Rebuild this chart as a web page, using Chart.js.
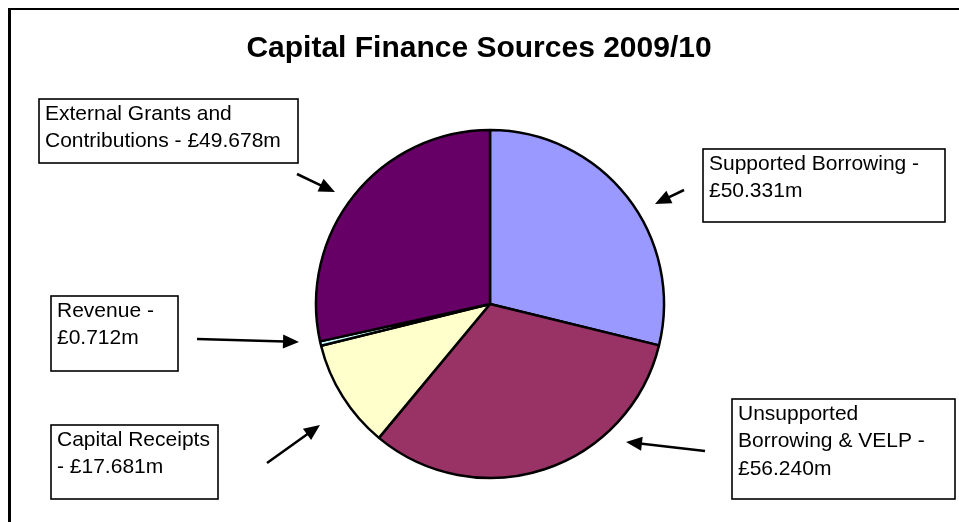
<!DOCTYPE html>
<html>
<head>
<meta charset="utf-8">
<script src="https://cdn.jsdelivr.net/npm/chart.js@4.4.1/dist/chart.umd.min.js"></script>
<style>
  html, body { margin: 0; padding: 0; background: #ffffff; }
  #wrap { width: 959px; height: 522px; position: relative; }
</style>
</head>
<body>
<div id="wrap"><canvas id="c" width="959" height="522"></canvas></div>
<script>
// ---- data ----
const chartTitle = "Capital Finance Sources 2009/10";
const categories = [
  "Supported Borrowing",
  "Unsupported Borrowing & VELP",
  "Capital Receipts",
  "Revenue",
  "External Grants and Contributions"
];
const valuesMillions = [50.331, 56.240, 17.681, 0.712, 49.678];
const calloutLines = [
  ["Supported Borrowing -", "£50.331m"],
  ["Unsupported", "Borrowing & VELP -", "£56.240m"],
  ["Capital Receipts", "- £17.681m"],
  ["Revenue -", "£0.712m"],
  ["External Grants and", "Contributions - £49.678m"]
];
const sliceColors = ["#9999FF", "#993366", "#FFFFCC", "#CCFFFF", "#660066"];

// ---- callout layout (boxes and arrows, in canvas pixels) ----
const calloutLayout = [
  { box: [703, 149, 242, 73],  arrow: [684, 190, 655, 204] },
  { box: [732, 399, 223, 100], arrow: [705, 451, 626, 442] },
  { box: [51, 425, 167, 74],   arrow: [267, 463, 320, 425] },
  { box: [51, 296, 127, 75],   arrow: [197, 339, 299, 342] },
  { box: [39, 99, 259, 64],    arrow: [297, 174, 335, 192] }
];

const FONT = '"Liberation Sans", Arial, Helvetica, sans-serif';

function drawArrow(ctx, x1, y1, x2, y2) {
  const ang = Math.atan2(y2 - y1, x2 - x1);
  const headLen = 16, headHalf = 7;
  const bx = x2 - headLen * Math.cos(ang), by = y2 - headLen * Math.sin(ang);
  ctx.save();
  ctx.strokeStyle = "#000";
  ctx.fillStyle = "#000";
  ctx.lineWidth = 2.5;
  ctx.beginPath();
  ctx.moveTo(x1, y1);
  ctx.lineTo(bx + 2 * Math.cos(ang), by + 2 * Math.sin(ang));
  ctx.stroke();
  ctx.beginPath();
  ctx.moveTo(x2, y2);
  ctx.lineTo(bx + headHalf * Math.sin(ang), by - headHalf * Math.cos(ang));
  ctx.lineTo(bx - headHalf * Math.sin(ang), by + headHalf * Math.cos(ang));
  ctx.closePath();
  ctx.fill();
  ctx.restore();
}

const decorPlugin = {
  id: "decor",
  beforeDraw(chart) {
    const ctx = chart.ctx;
    ctx.save();
    ctx.fillStyle = "#fff";
    ctx.fillRect(0, 0, chart.width, chart.height);
    // outer frame (extends beyond right/bottom edges)
    ctx.fillStyle = "#000";
    ctx.fillRect(8, 8, chart.width, 2);
    ctx.fillRect(8, 8, 3, chart.height);
    // title
    ctx.font = "bold 30px " + FONT;
    ctx.textAlign = "center";
    ctx.textBaseline = "middle";
    ctx.fillText(chartTitle, 479, 49);
    ctx.restore();
  },
  afterDraw(chart) {
    const ctx = chart.ctx;
    ctx.save();
    calloutLayout.forEach((c, i) => {
      const [x, y, w, h] = c.box;
      ctx.fillStyle = "#fff";
      ctx.fillRect(x, y, w, h);
      ctx.strokeStyle = "#000";
      ctx.lineWidth = 1.6;
      ctx.strokeRect(x, y, w, h);
      ctx.fillStyle = "#000";
      ctx.font = "21px " + FONT;
      ctx.textAlign = "left";
      ctx.textBaseline = "middle";
      calloutLines[i].forEach((t, k) => {
        ctx.fillText(t, x + 6, y + 15 + k * 27.5);
      });
      const [x1, y1, x2, y2] = c.arrow;
      drawArrow(ctx, x1, y1, x2, y2);
    });
    ctx.restore();
  }
};

new Chart(document.getElementById("c"), {
  type: "pie",
  data: {
    labels: categories,
    datasets: [{
      data: valuesMillions,
      backgroundColor: sliceColors,
      borderColor: "#000000",
      borderWidth: 2.5,
      hoverOffset: 0
    }]
  },
  options: {
    responsive: false,
    animation: false,
    devicePixelRatio: 1,
    radius: 174,
    rotation: 0,
    layout: { padding: { left: 121, right: 100, top: 126, bottom: 40 } },
    plugins: {
      legend: { display: false },
      title: { display: false },
      tooltip: { enabled: false }
    }
  },
  plugins: [decorPlugin]
});
</script>
</body>
</html>
